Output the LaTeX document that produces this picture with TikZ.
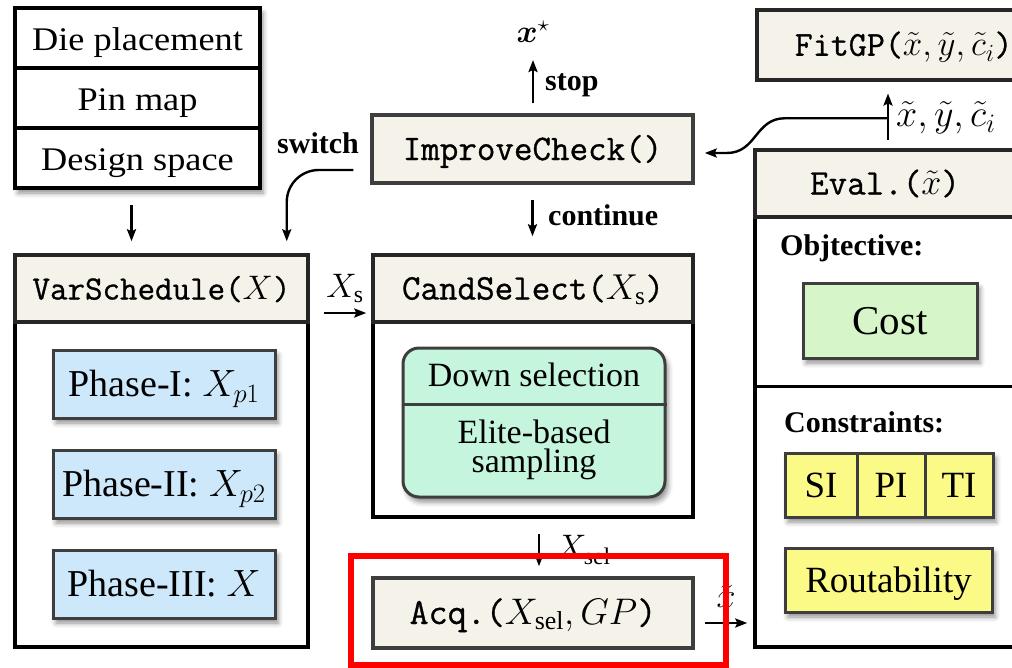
\RequirePackage{fix-cm}
\documentclass[tikz,border=0pt]{standalone}
\usepackage{bm}
\usepackage{fontspec}
\setmainfont{Liberation Serif}
\newfontfamily\codefont{Latin Modern Mono}[FakeBold=0.8]
\usetikzlibrary{arrows.meta,calc,shadows.blur}

\definecolor{hdrfill}{RGB}{244,242,233}
\definecolor{boxline}{RGB}{62,62,62}
\definecolor{phasefill}{RGB}{205,232,250}
\definecolor{mintfill}{RGB}{198,245,222}
\definecolor{costfill}{RGB}{214,245,200}
\definecolor{yfill}{RGB}{252,250,135}
\definecolor{hilite}{RGB}{255,0,0}

\newcommand{\fsz}[1]{\fontsize{#1}{#1}\selectfont}

\begin{document}
\begin{tikzpicture}[x=1pt,y=-1pt,
  arr/.style={line width=2.4,-{Stealth[length=12pt,width=9pt,inset=2pt]}},
  softshadow/.style={blur shadow={shadow xshift=3pt,shadow yshift=-5pt,shadow blur radius=5pt,shadow opacity=45}},
  capped/.style={text height=#1,text depth=0pt,inner sep=0pt},
  stackrow/.style={draw=black,line width=4.5,fill=white,minimum width=245,minimum height=60,capped=24pt,font=\fsz{33}},
  outline/.style={draw=black,line width=3.5,inner sep=0pt},
  head/.style={draw=black!85,line width=3.5,fill=hdrfill,minimum height=67,inner sep=0pt,
    font=\codefont\fsz{36},text height=22pt,text depth=0pt},
  phase/.style={draw=boxline,line width=3,fill=phasefill,minimum width=222,minimum height=68,capped=25pt,font=\fsz{38},softshadow},
  ybox/.style={draw=boxline,line width=3,fill=yfill,minimum height=64,capped=24.5pt,font=\fsz{37}},
  lbl/.style={font=\bfseries\fsz{30},inner sep=0pt},
  mathlbl/.style={font=\fsz{34},inner sep=0pt},
]
\useasboundingbox (0,0) rectangle (1012,667);

% ---------- inputs ----------
\path[fill=white,softshadow] (15,8) rectangle (260,188);
\node[stackrow] (die) at (137.5,38) {\scalebox{1.1}[1]{Die placement}};
\node[stackrow] (pin) at (137.5,98) {\scalebox{1.1}[1]{Pin map}};
\node[stackrow] (dsp) at (137.5,158) {\scalebox{1.1}[1]{Design space}};

% ---------- variable schedule ----------
\node[outline,minimum width=293,minimum height=392] (vs) at (161.5,451) {};
\node[head,minimum width=293,anchor=north] (vsh) at (vs.north) {\fsz{34}VarSchedule($X$)};
\node[phase] (p1) at (164,384) {Phase-I: $X_{p1}$};
\node[phase] (p2) at (164,484) {Phase-II: $X_{p2}$};
\node[phase] (p3) at (164,584) {Phase-III: $X$};

% ---------- candidate selection ----------
\node[outline,minimum width=320,minimum height=262] (cs) at (533,386) {};
\node[head,minimum width=320,anchor=north] (csh) at (cs.north) {CandSelect($X_{\mathrm{s}}$)};
\node[draw=boxline,line width=3,fill=mintfill,rounded corners=16,minimum width=262,minimum height=149,softshadow] (sel) at (534,422.5) {};
\node[capped=22.5pt,font=\fsz{34}] (down) at (534,375) {Down selection};
\coordinate (selcut) at ($(sel.north west)+(0,58)$);
\draw[line width=2.5,draw=boxline] (selcut) -- (selcut -| sel.east);
\node[align=center,inner sep=0pt,font=\fontsize{34}{29}\selectfont] (elite) at (534,450) {Elite-based\\sampling};

% ---------- improvement check ----------
\node[head,draw=boxline,minimum width=321,minimum height=68] (ic) at (532.5,149) {ImproveCheck()};
\node[inner sep=0pt,anchor=south,font=\fsz{32}] (xstar) at (533,43) {$\bm{x}^{\star}$};

% ---------- acquisition ----------
\node[head,draw=boxline,minimum width=320,minimum height=70] (acq) at (533,613) {\fsz{37}Acq.($X_{\mathrm{sel}},GP$)};

% ---------- evaluation ----------
\node[outline,minimum width=260,minimum height=497] (ev) at (885,398.5) {};
\node[head,minimum width=260,anchor=north] (evh) at (ev.north) {Eval.($\tilde{x}$)};
\coordinate (evcut) at ($(ev.north west)+(0,238)$);
\draw[line width=3.5] (evcut) -- (evcut -| ev.east);
\node[lbl,anchor=west] (obj) at (780,248) {Objtective:};
\node[draw=boxline,line width=3,fill=costfill,minimum width=174,minimum height=75,capped=27pt,font=\fsz{41},softshadow] (cost) at (890,320.5) {Cost};
\node[lbl,anchor=west] (con) at (784,422) {Constraints:};
\path[fill=yfill,softshadow] (785,453) rectangle (993,517);
\node[ybox,minimum width=72] (si) at (821,485) {SI};
\node[ybox,minimum width=68] (pi) at (891,485) {PI};
\node[ybox,minimum width=68] (ti) at (959,485) {TI};
\node[ybox,minimum width=207,softshadow] (rout) at (888.5,580) {Routability};

% ---------- surrogate fitting ----------
\node[head,anchor=north west,minimum height=70,inner xsep=38pt] (fit) at (755,8) {\fsz{35}FitGP($\tilde{x},\tilde{y},\tilde{c}_i$)};

% ---------- connectors ----------
\draw[arr] ($(dsp.south)+(-6,15)$) -- ($(vsh.north)+(-30,-12)$);
\draw[arr,rounded corners=32] ($(ic.west)+(-17,21)$) -| ($(vsh.north east)+(-23,-12)$);
\node[lbl] (sw) at (318,143) {switch};

\draw[arr] ($(vsh.east)+(14,24.5)$) -- ($(csh.west)+(-5,24.5)$)
  node[mathlbl,midway,above=9pt] (xs) {$X_{\mathrm{s}}$};

\draw[arr] ($(ic.north)+(0.5,-10)$) -- ($(xstar.south)+(0,17)$);
\node[lbl,anchor=west] (stop) at (545,85) {stop};

\draw[arr] ($(ic.south)+(0,15)$) -- ($(csh.north)+(-0.5,-17)$);
\node[lbl,anchor=west] (cont) at (548,215) {continue};

\draw[arr] ($(cs.south)+(6,15)$) -- ($(acq.north)+(6,-10)$);
\node[mathlbl,anchor=west] (xsel) at (556,550) {$X_{\mathrm{sel}}$};

\draw[arr] ($(acq.east)+(10,10)$) -- ($(acq.east -| ev.west)+(-6,10)$)
  node[mathlbl,midway,above=14pt] (xt) {$\tilde{x}$};

\draw[arr] ($(ev.north)+(3,-8)$) -- ($(ev.north |- fit.south)+(3,12)$);
\node[anchor=west,inner sep=0pt,font=\fsz{38}] (xyc) at (896,118) {$\tilde{x},\tilde{y},\tilde{c}_i$};

\coordinate (fb) at ($(ev.north)+(3,-30)$);
\draw[arr] (fb) -- ++(-103,0) .. controls +(-30,0) and +(30,0) .. ($(ic.east)+(32,4)$) -- ($(ic.east)+(10,4)$);

% ---------- highlight ----------
\draw[line width=6,draw=hilite] ($(acq.north west)+(-20,-20)$) rectangle ($(acq.south east)+(31,15)$);
\end{tikzpicture}
\end{document}
